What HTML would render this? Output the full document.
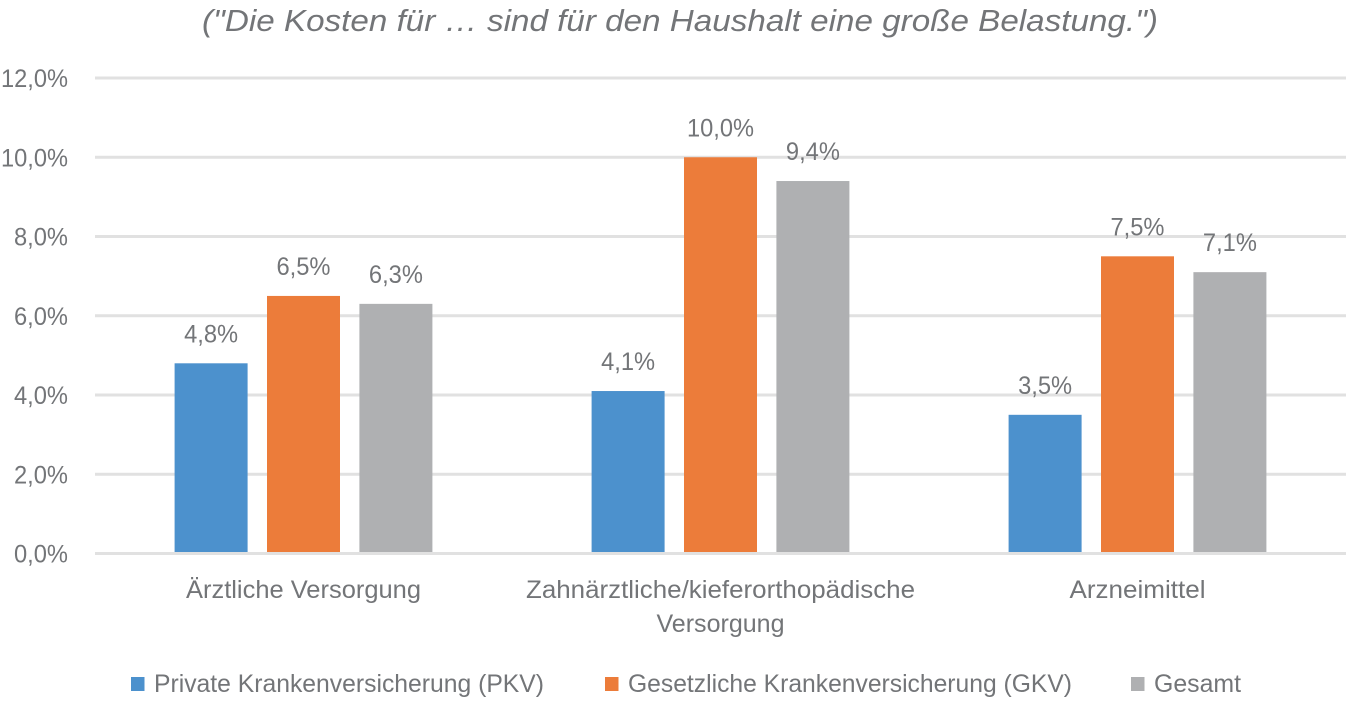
<!DOCTYPE html>
<html lang="de">
<head>
<meta charset="utf-8">
<title>Kosten Belastung Haushalt</title>
<style>
html,body{margin:0;padding:0;background:#fff;width:1346px;height:702px;overflow:hidden}
svg{display:block}
text{font-family:"Liberation Sans",sans-serif;fill:#737578}
</style>
</head>
<body>
<svg id="chart" width="1346" height="702" viewBox="0 0 1346 702" xmlns="http://www.w3.org/2000/svg">
<text x="680" y="31" text-anchor="middle" font-size="31" font-style="italic" textLength="956" lengthAdjust="spacingAndGlyphs">("Die Kosten für … sind für den Haushalt eine große Belastung.")</text>
<g id="grid"></g>
<g id="ylabels"></g>
<g id="bars"></g>
<g id="values"></g>
<g id="xlabels"></g>
<g id="legend"></g>
</svg>
<script>
const categories = [["Ärztliche Versorgung"], ["Zahnärztliche/kieferorthopädische", "Versorgung"], ["Arzneimittel"]];
const seriesNames = ["Private Krankenversicherung (PKV)", "Gesetzliche Krankenversicherung (GKV)", "Gesamt"];
const pkvValues = [4.8, 4.1, 3.5];
const gkvValues = [6.5, 10.0, 7.5];
const gesamtValues = [6.3, 9.4, 7.1];
const yTicks = [0, 2, 4, 6, 8, 10, 12];

const NS = "http://www.w3.org/2000/svg";
const seriesValues = [pkvValues, gkvValues, gesamtValues];
const seriesColors = ["#4c91cd", "#ec7c3a", "#afb0b2"];
const plotLeft = 95, plotRight = 1346, plotBottom = 553.5, plotTop = 78;
const yMax = 12;
function yScale(v) { return plotBottom - (v / yMax) * (plotBottom - plotTop); }
function groupCenter(i) { return plotLeft + (plotRight - plotLeft) * (i + 0.5) / categories.length; }
const barWidth = 73, barStep = 92.4;
function barX(i, s) { return groupCenter(i) + (s - 1) * barStep - barWidth / 2; }
function fmt(v) { return v.toFixed(1).replace(".", ",") + "%"; }
function numWidth(str) { return str.length > 4 ? 67 : 54; }
function make(tag, attrs, parent, txt) {
  const el = document.createElementNS(NS, tag);
  for (const k in attrs) el.setAttribute(k, attrs[k]);
  if (txt !== undefined) el.textContent = txt;
  parent.appendChild(el);
  return el;
}
const gGrid = document.getElementById("grid");
const gY = document.getElementById("ylabels");
yTicks.forEach(function (t) {
  const line = make("line", { x1: plotLeft, x2: plotRight, y1: yScale(t), y2: yScale(t), stroke: "#e1e1e1", "stroke-width": 3 }, gGrid);
  
  
  const s = fmt(t);
  const lab = make("text", { x: 68, y: yScale(t) + 9, "text-anchor": "end", "font-size": 25, textLength: numWidth(s), lengthAdjust: "spacingAndGlyphs" }, gY, s);
  
  
});
const gBars = document.getElementById("bars");
const gVals = document.getElementById("values");
categories.forEach(function (c, i) {
  seriesValues.forEach(function (vals, s) {
    const v = vals[i];
    const bar = make("rect", { x: barX(i, s), y: yScale(v), width: barWidth, height: plotBottom - 1.5 - yScale(v), fill: seriesColors[s] }, gBars);
    
    
    const str = fmt(v);
    const lab = make("text", { x: barX(i, s) + barWidth / 2, y: yScale(v) - 21, "text-anchor": "middle", "font-size": 25, textLength: numWidth(str), lengthAdjust: "spacingAndGlyphs" }, gVals, str);
    
    
  });
});
const gX = document.getElementById("xlabels");
const catWidths = [[235], [389, 128], [136]];
categories.forEach(function (lines, i) {
  lines.forEach(function (ln, k) {
    const lab = make("text", { x: groupCenter(i), y: 598 + k * 34, "text-anchor": "middle", "font-size": 25, textLength: catWidths[i][k], lengthAdjust: "spacingAndGlyphs" }, gX, ln);
    
    
  });
});
const gLeg = document.getElementById("legend");
const legendSwatchX = [131, 605, 1131];
const legendWidths = [390, 444, 87];
seriesNames.forEach(function (n, s) {
  const sw = make("rect", { x: legendSwatchX[s], y: 677, width: 13.5, height: 14, fill: seriesColors[s] }, gLeg);
  
  
  const lab = make("text", { x: legendSwatchX[s] + 23, y: 692, "font-size": 25, textLength: legendWidths[s], lengthAdjust: "spacingAndGlyphs" }, gLeg, n);
  
  
});
</script>
</body>
</html>
